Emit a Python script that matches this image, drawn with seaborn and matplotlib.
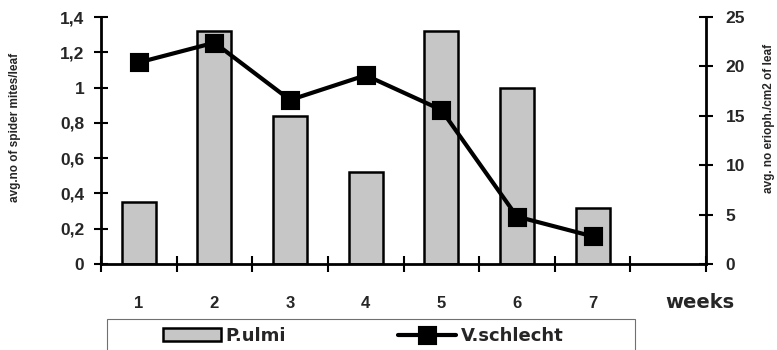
import numpy as np
import matplotlib
matplotlib.use("Agg")
import matplotlib.pyplot as plt
from matplotlib.patches import Rectangle
import seaborn as sns

# Weekly counts
weeks = ["1", "2", "3", "4", "5", "6", "7"]
p_ulmi = [0.35, 1.32, 0.84, 0.52, 1.32, 1.0, 0.32]        # avg. spider mites per leaf
v_schlecht = [20.4, 22.4, 16.6, 19.1, 15.6, 4.8, 2.8]     # avg. eriophyids per cm2 of leaf

left_ticks = [0, 0.2, 0.4, 0.6, 0.8, 1.0, 1.2, 1.4]
left_labels = ["0", "0,2", "0,4", "0,6", "0,8", "1", "1,2", "1,4"]
right_ticks = [0, 5, 10, 15, 20, 25]
right_labels = ["0", "5", "10", "15", "20", "25"]

sns.set_style("white")
plt.rcParams["font.family"] = ["Liberation Sans", "DejaVu Sans"]
plt.rcParams["font.weight"] = "bold"

W, H = 777, 350
fig = plt.figure(figsize=(W / 100, H / 100), dpi=100)
ax = fig.add_axes([101 / W, 1 - 264 / H, (706 - 101) / W, (264 - 17) / H])

sns.barplot(x=weeks, y=p_ulmi, ax=ax, color="#c6c6c6", saturation=1,
            edgecolor="black", linewidth=1.8, width=0.45, errorbar=None)

ax2 = ax.twinx()
sns.pointplot(x=weeks, y=v_schlecht, ax=ax2, color="black", markers="s",
              markersize=12, linewidth=3, errorbar=None)

# eight week slots, the last one empty
for a in (ax, ax2):
    a.set_xlim(-0.5, 7.5)
    a.set_xlabel("")
    a.set_ylabel("")
    a.grid(False)

ax.set_ylim(0, 1.4)
ax2.set_ylim(0, 25)
ax.set_yticks(left_ticks, left_labels)
ax2.set_yticks(right_ticks, right_labels)

# tick marks between weeks, week numbers centred under the bars
ax.set_xticks(np.arange(-0.5, 8.0, 1.0), [""] * 9)
ax.set_xticks(range(len(weeks)), weeks, minor=True)
ax.tick_params(axis="x", which="major", direction="inout", length=12, width=1.5,
               bottom=True, color="black")
ax.tick_params(axis="x", which="minor", length=0, pad=23, labelsize=12, bottom=True)
ax.tick_params(axis="y", direction="inout", length=10, width=1.5, pad=7,
               labelsize=12.5, left=True, color="black")
ax2.tick_params(axis="y", direction="inout", length=10, width=1.5, pad=9,
                labelsize=12.5, right=True, color="black")

for a in (ax, ax2):
    a.spines["top"].set_visible(False)
    for s in ("left", "right", "bottom"):
        a.spines[s].set_color("black")
        a.spines[s].set_linewidth(2)
ax.spines["right"].set_visible(False)
ax2.spines["left"].set_visible(False)
ax2.spines["bottom"].set_visible(False)

fig.text(15 / W, 1 - 127 / H, "avg.no of spider mites/leaf", rotation=90,
         ha="center", va="center", fontsize=8.5, fontweight="bold")
fig.text(769 / W, 1 - 118 / H, "avg. no erioph./cm2 of leaf", rotation=90,
         ha="center", va="center", fontsize=8.5, fontweight="bold")
fig.text(700 / W, 1 - 303 / H, "weeks", ha="center", va="center",
         fontsize=14, fontweight="bold", family="DejaVu Sans")

# legend box
fig.patches.append(Rectangle((107 / W, -0.05), (635 - 107) / W, 1 - 319 / H + 0.05,
                             transform=fig.transFigure, fill=False,
                             edgecolor="#707070", linewidth=0.8))
handles = [ax.patches[0], ax2.lines[0]]
fig.legend(handles, ["P.ulmi", "V.schlecht"], loc="center left",
           bbox_to_anchor=(163 / W, 1 - 336 / H), ncol=2, frameon=False,
           prop={"family": "DejaVu Sans", "weight": "bold", "size": 13},
           handlelength=3.2, handletextpad=0.28,
           columnspacing=6.2, borderaxespad=0, borderpad=0)

fig.savefig("out.png", dpi=100)
